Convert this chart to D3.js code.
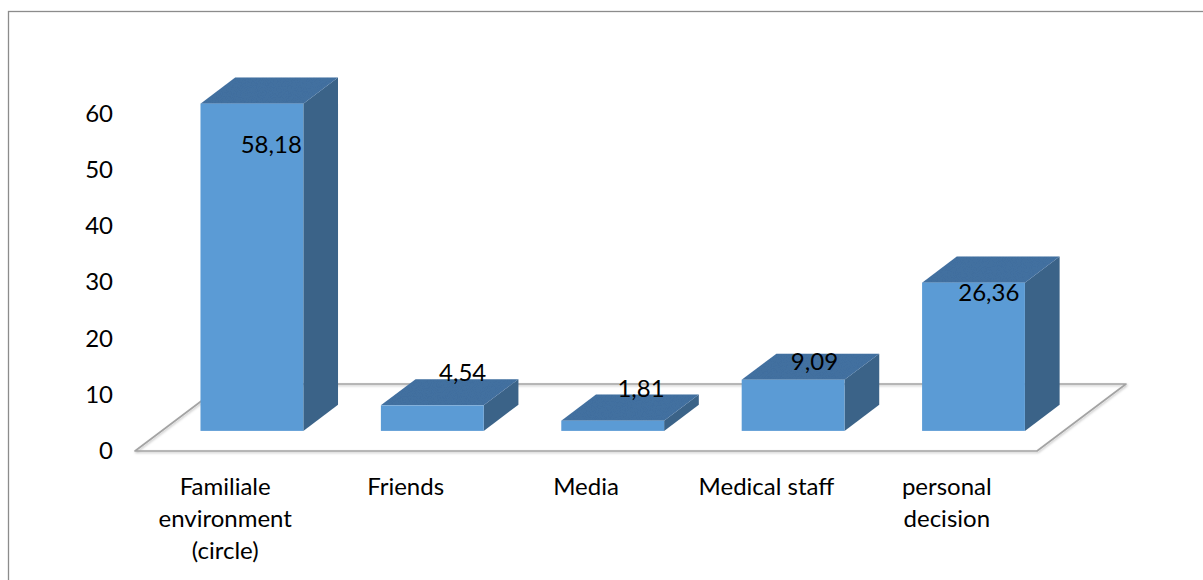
<!DOCTYPE html>
<html>
<head>
<meta charset="utf-8">
<script src="https://cdn.jsdelivr.net/npm/d3@7"></script>
<style>
  html, body { margin: 0; padding: 0; background: #fff; }
  svg { display: block; font-family: Lato, "Noto Sans", sans-serif; }
</style>
</head>
<body>
<svg id="chart" width="1203" height="580"></svg>
<script>
// Categories and their percentages
const categories = [
  ["Familiale", "environment", "(circle)"],
  ["Friends"],
  ["Media"],
  ["Medical staff"],
  ["personal", "decision"]
];
const values = [58.18, 4.54, 1.81, 9.09, 26.36];
const valueLabels = ["58,18", "4,54", "1,81", "9,09", "26,36"];
const yTicks = [0, 10, 20, 30, 40, 50, 60];

// Layout
const W = 1203, H = 580;
const floor = { x0: 135, x1: 1037, y: 451, dx: 89, dy: -67 };
const barFront = 0.3;   // fraction of floor depth where the bar's front face sits
const barDepth = 0.39;  // fraction of floor depth taken by a bar
// small per-label shifts from the centre of each bar's top face
const labelShift = [[2, 53], [13, -21], [11, -20], [4, -6], [-2, 22]];

const colors = { front: "#5b9bd5", top: "#4573a4", side: "#3b6388", grid: "#a3a3a3", text: "#000" };

const svg = d3.select("#chart");

// Outer frame
svg.append("rect")
  .attr("x", 8.5).attr("y", 11.5)
  .attr("width", W + 20).attr("height", H + 20)
  .attr("fill", "none").attr("stroke", "#8c8c8c").attr("stroke-width", 1.3);

const keys = d3.range(values.length);
const x = d3.scaleBand().domain(keys).range([floor.x0, floor.x1])
  .paddingInner(0.43).paddingOuter(0.215);
const y = d3.scaleLinear().domain([0, 60]).range([floor.y, floor.y - 337.5]);

const ox = floor.dx * barFront, oy = floor.dy * barFront;
const ddx = floor.dx * barDepth, ddy = floor.dy * barDepth;

// Floor outline
const defs = svg.append("defs");
const sh = defs.append("filter").attr("id", "soft").attr("x", "-5%").attr("y", "-5%").attr("width", "110%").attr("height", "120%");
sh.append("feDropShadow").attr("dx", 0.8).attr("dy", 1.2).attr("stdDeviation", 0.8)
  .attr("flood-color", "#000").attr("flood-opacity", 0.25);

const floorPts = [
  [floor.x0, floor.y],
  [floor.x1, floor.y],
  [floor.x1 + floor.dx, floor.y + floor.dy],
  [floor.x0 + floor.dx, floor.y + floor.dy]
];
svg.append("path")
  .attr("d", d3.line()(floorPts) + "Z")
  .attr("fill", "none").attr("stroke", colors.grid).attr("stroke-width", 1.6)
  .attr("stroke-linejoin", "round")
  .attr("filter", "url(#soft)");

// Vertical axis line
svg.append("line")
  .attr("x1", floor.x0).attr("x2", floor.x0)
  .attr("y1", y(0)).attr("y2", y(60))
  .attr("stroke", colors.grid).attr("stroke-width", 1.6)
  .attr("filter", "url(#soft)");

// Y tick labels via d3 axis (line work hidden)
const yAxis = svg.append("g")
  .attr("transform", `translate(${floor.x0 - 22},0)`)
  .call(d3.axisLeft(y).tickValues(yTicks).tickSize(0).tickPadding(0).tickFormat(d3.format("d")));
yAxis.select(".domain").remove();
yAxis.selectAll("text")
  .attr("font-family", "Lato, 'Noto Sans', sans-serif")
  .attr("font-size", 24).attr("fill", colors.text);

// Top-face texture
const tex = defs.append("filter").attr("id", "grain");
tex.append("feTurbulence").attr("type", "fractalNoise").attr("baseFrequency", 1.2).attr("numOctaves", 1).attr("seed", 3).attr("result", "n");
tex.append("feColorMatrix").attr("in", "n").attr("type", "matrix")
  .attr("values", "0 0 0 0 0  0 0 0 0 0  0 0 0 0 0  0 0 0 0.12 0").attr("result", "a");
tex.append("feComposite").attr("in", "a").attr("in2", "SourceGraphic").attr("operator", "in").attr("result", "g");
const tm = tex.append("feMerge");
tm.append("feMergeNode").attr("in", "SourceGraphic");
tm.append("feMergeNode").attr("in", "g");

// Bars
const base = floor.y + oy;
const bars = svg.append("g").selectAll("g").data(keys).join("g");

bars.each(function (i) {
  const g = d3.select(this);
  const x0 = x(i) + ox, x1 = x0 + x.bandwidth();
  const yTop = y(values[i]) + oy;
  // side face
  g.append("path")
    .attr("d", d3.line()([[x1, base], [x1 + ddx, base + ddy], [x1 + ddx, yTop + ddy], [x1, yTop]]) + "Z")
    .attr("fill", colors.side);
  // top face
  g.append("path")
    .attr("d", d3.line()([[x0, yTop], [x1, yTop], [x1 + ddx, yTop + ddy], [x0 + ddx, yTop + ddy]]) + "Z")
    .attr("fill", colors.top).attr("filter", "url(#grain)");
  // front face
  g.append("rect")
    .attr("x", x0).attr("y", yTop)
    .attr("width", x.bandwidth()).attr("height", base - yTop)
    .attr("fill", colors.front);
});

// Value labels
svg.append("g").selectAll("text").data(keys).join("text")
  .attr("x", i => x(i) + ox + x.bandwidth() / 2 + ddx / 2 + labelShift[i][0])
  .attr("y", i => y(values[i]) + oy + ddy / 2 + labelShift[i][1])
  .attr("text-anchor", "middle").attr("dominant-baseline", "central")
  .attr("font-size", 24).attr("fill", colors.text)
  .text(i => valueLabels[i]);

// Category labels
const catG = svg.append("g").selectAll("text").data(keys).join("text")
  .attr("text-anchor", "middle")
  .attr("font-size", 24).attr("fill", colors.text);
catG.each(function (i) {
  const t = d3.select(this);
  categories[i].forEach((line, k) => {
    t.append("tspan")
      .attr("x", x(i) + x.bandwidth() / 2)
      .attr("y", 495 + k * 32)
      .text(line);
  });
});
</script>
</body>
</html>
